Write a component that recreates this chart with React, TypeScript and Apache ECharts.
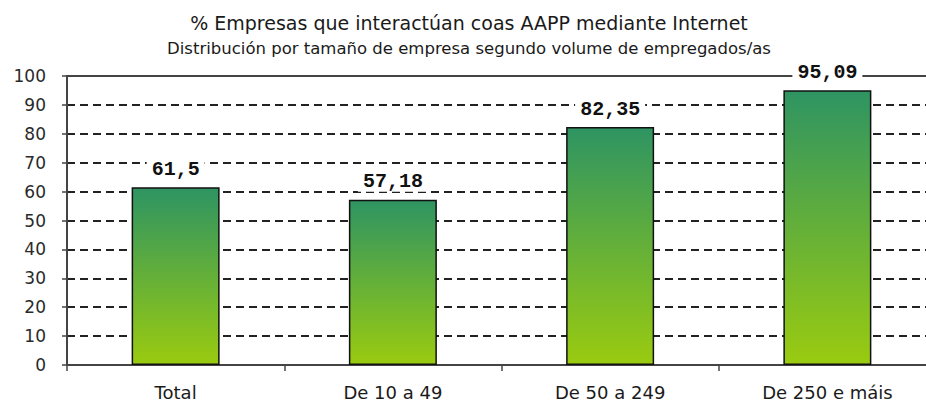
import React, { useEffect, useRef } from "react";
import * as echarts from "echarts";

const categories = ["Total", "De 10 a 49", "De 50 a 249", "De 250 e máis"];
const values = [61.5, 57.18, 82.35, 95.09];
const valueLabels = ["61,5", "57,18", "82,35", "95,09"];
const titleText = "% Empresas que interactúan coas AAPP mediante Internet";
const subtitleText = "Distribución por tamaño de empresa segundo volume de empregados/as";

export default function App() {
  const ref = useRef<HTMLDivElement>(null);
  useEffect(() => {
    if (!ref.current) return;
    const chart = echarts.init(ref.current, null, { renderer: "svg" });
    chart.setOption({
      animation: false,
      backgroundColor: "#fff",
      title: {
        text: titleText,
        subtext: subtitleText,
        left: 464,
        textAlign: "center",
        top: 8,
        itemGap: 8,
        textStyle: { fontFamily: "DejaVu Sans", fontSize: 19, fontWeight: "normal", color: "#1a1a1a" },
        subtextStyle: { fontFamily: "DejaVu Sans", fontSize: 16.5, color: "#1a1a1a" },
      },
      grid: { left: 67, top: 76, width: 869, height: 289, outerBoundsMode: "none" },
      xAxis: [
        {
          type: "category",
          data: categories,
          axisLine: { lineStyle: { color: "#444", width: 2 } },
          axisTick: { show: true, length: 6, lineStyle: { color: "#444", width: 1.5 } },
          axisLabel: { fontFamily: "DejaVu Sans", fontSize: 18, color: "#1a1a1a", margin: 18 },
        },
        {
          type: "category",
          data: categories,
          position: "top",
          axisLine: { show: true, lineStyle: { color: "#444", width: 2 } },
          axisTick: { show: false },
          axisLabel: { show: false },
        },
      ],
      yAxis: {
        type: "value",
        min: 0,
        max: 100,
        interval: 10,
        axisLine: { show: true, lineStyle: { color: "#444", width: 2 } },
        axisTick: { show: true, length: 5, lineStyle: { color: "#444", width: 1.5 } },
        axisLabel: { fontFamily: "DejaVu Sans", fontSize: 17, color: "#2a2a2a", margin: 21 },
        splitLine: { show: true, lineStyle: { color: "#222", width: 2, type: [8, 5] } },
      },
      series: [
        {
          type: "bar",
          data: values,
          barWidth: 88,
          itemStyle: {
            borderColor: "#111",
            borderWidth: 1.5,
            color: new echarts.graphic.LinearGradient(0, 0, 0, 1, [
              { offset: 0, color: "#2e9462" },
              { offset: 1, color: "#9acb10" },
            ]),
          },
          label: {
            show: true,
            position: "top",
            distance: 8,
            formatter: (p: any) => valueLabels[p.dataIndex],
            fontFamily: "Courier New, Liberation Mono",
            fontWeight: "bold",
            fontSize: 20,
            color: "#111",
            backgroundColor: "#fff",
            padding: [0, 5],
          },
        },
      ],
    });
    return () => chart.dispose();
  }, []);
  return <div ref={ref} style={{ width: 926, height: 403, position: "absolute", left: 0, top: 0 }} />;
}
